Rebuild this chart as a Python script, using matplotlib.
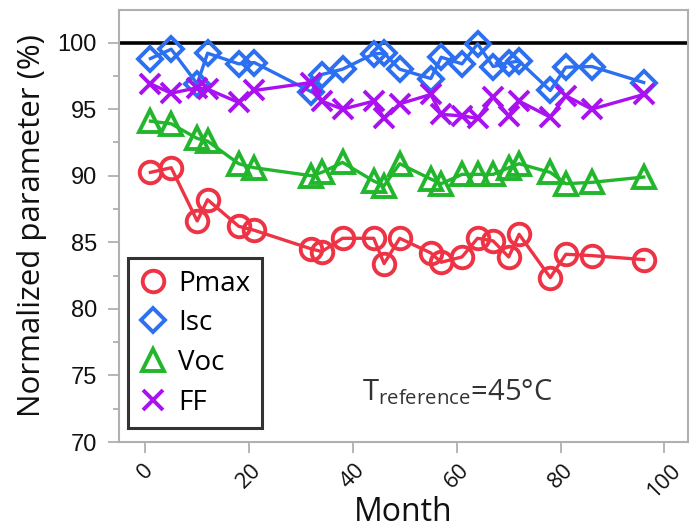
import numpy as np
import matplotlib
matplotlib.use("Agg")
import matplotlib.pyplot as plt

months = [1, 5, 10, 12, 18, 21, 32, 34, 38, 44, 46, 49,
          55, 57, 61, 64, 67, 70, 72, 78, 81, 86, 96]

pmax = [90.25, 90.6, 86.6, 88.2, 86.2, 85.9, 84.5, 84.3, 85.3, 85.3, 83.4, 85.3,
        84.2, 83.5, 83.9, 85.3, 85.1, 83.9, 85.6, 82.35, 84.1, 84.0, 83.7]
isc = [98.8, 99.5, 96.9, 99.2, 98.4, 98.5, 96.3, 97.6, 98.0, 99.15, 99.2, 98.0,
       97.3, 98.9, 98.4, 99.9, 98.2, 98.5, 98.6, 96.4, 98.15, 98.2, 97.0]
voc = [94.1, 93.9, 92.8, 92.6, 90.9, 90.6, 90.0, 90.25, 91.0, 89.6, 89.25, 90.9,
       89.75, 89.4, 90.1, 90.1, 90.1, 90.6, 90.9, 90.25, 89.4, 89.5, 89.9]
ff = [96.9, 96.2, 96.6, 96.5, 95.5, 96.4, 97.0, 95.6, 95.0, 95.6, 94.3, 95.4,
      96.1, 94.6, 94.5, 94.3, 95.9, 94.5, 95.6, 94.4, 96.0, 95.0, 96.1]

names = ["Pmax", "Isc", "Voc", "FF"]
colors = ["#ee3345", "#2c6ff0", "#22b62c", "#a911f0"]
markers = ["o", "D", "^", "x"]
msizes = [15.5, 12.5, 16.5, 15]

plt.rcParams['mathtext.fontset'] = 'custom'
plt.rcParams['mathtext.rm'] = 'Open Sans'

fig = plt.figure(figsize=(6.92, 5.30), dpi=100)
ax = fig.add_axes([0.1724, 0.166, 0.8216, 0.815])

for vals, name, c, m, ms in zip([pmax, isc, voc, ff], names, colors, markers, msizes):
    ax.plot(months, vals, color=c, lw=2.4, marker=m, markersize=ms,
            markerfacecolor="none", markeredgecolor=c, markeredgewidth=2.8,
            label=name)

ax.axhline(100, color="black", lw=2.6, zorder=1)

ax.set_xlim(-5, 104.5)
ax.set_ylim(70, 102.44)
ax.set_xticks(np.arange(0, 101, 20))
ax.set_yticks(np.arange(70, 101, 5))
ax.set_yticks(np.arange(72.5, 101, 5), minor=True)

for s in ax.spines.values():
    s.set_color("#b0b0b0")
    s.set_linewidth(1.5)
ax.tick_params(axis="both", which="major", color="#b0b0b0", width=1.3, length=8)
ax.tick_params(axis="y", which="minor", color="#b0b0b0", width=1.3, length=4)
ax.tick_params(axis="y", labelsize=17, labelcolor="#111111", pad=8)
for t in ax.get_yticklabels():
    t.set_fontfamily("Liberation Sans")
ax.tick_params(axis="x", labelsize=16, labelcolor="#111111", pad=5)
for t in ax.get_xticklabels():
    t.set_fontfamily("Open Sans")
    t.set_rotation(45)
    t.set_ha("center")

ax.set_xlabel("Month", fontsize=23, family="Open Sans", color="#111111", labelpad=-4)
ax.set_ylabel("Normalized parameter (%)", fontsize=22.5, family="Open Sans",
              color="#111111", labelpad=8)

leg = ax.legend(loc="lower left", bbox_to_anchor=(0.015, 0.032), borderaxespad=0,
                frameon=True, fancybox=False,
                prop={"family": "Open Sans", "size": 20},
                handlelength=1.0, handletextpad=0.4, labelspacing=0.42,
                borderpad=0.42)
leg.get_frame().set_edgecolor("black")
leg.get_frame().set_linewidth(2.2)
for h in leg.get_lines():
    h.set_linestyle("none")

ax.text(0.426, 0.097, r"$\mathregular{T_{reference}}$=45°C", transform=ax.transAxes,
        fontsize=21, family="Open Sans", color="#333333", va="baseline")

fig.savefig("out.png", dpi=100)
